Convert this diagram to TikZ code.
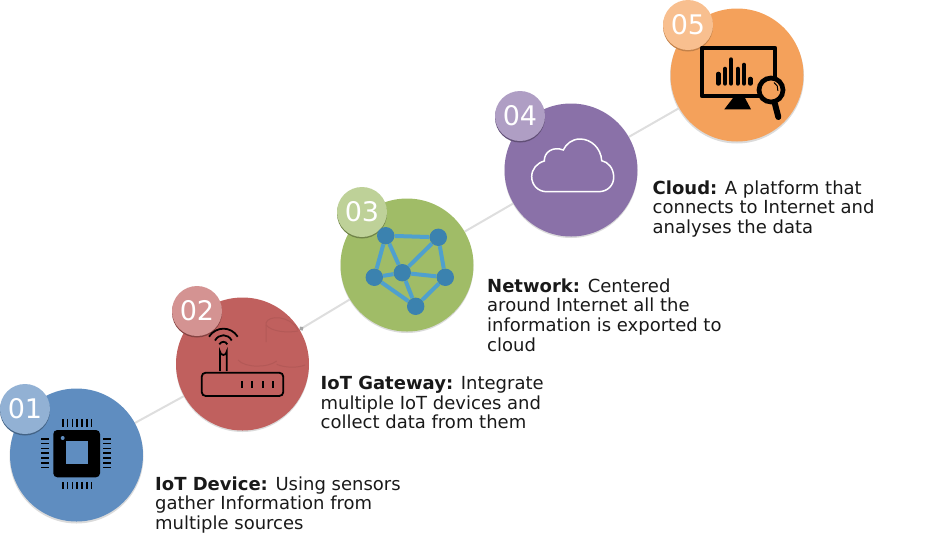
\documentclass[tikz,border=0pt]{standalone}
\usepackage{fontspec}
\setmainfont{DejaVu Sans}
\usetikzlibrary{backgrounds,arrows.meta}
\pgfdeclarelayer{icons}
\pgfsetlayers{background,main,icons}

\tikzset{
  stepdisc/.style={circle,minimum size=133pt,inner sep=0pt},
  numdisc/.style={circle,minimum size=50pt,inner sep=0pt,text=white,font=\fontsize{27}{27}\selectfont},
  caption/.style={anchor=north west,align=left,inner sep=0pt,text=black!90,font=\fontsize{18}{19.6}\selectfont},
  link/.style={draw=black!13,line width=2pt},
  netnode/.style={circle,fill=netdark,minimum size=17.4pt,inner sep=0pt},
  netlink/.style={draw=netlight,line width=4pt},
  ghost/.style={draw=reddisc!93!black,line width=1pt},
  iconline/.style={draw=black,line width=1.8pt}
}
\definecolor{bluedisc}{HTML}{5F8DC0}
\definecolor{reddisc}{HTML}{C0605E}
\definecolor{greendisc}{HTML}{A0BC67}
\definecolor{purpledisc}{HTML}{8A71A8}
\definecolor{orangedisc}{HTML}{F4A15B}
\definecolor{netdark}{HTML}{3B82AF}
\definecolor{netlight}{HTML}{4FA0CE}

\begin{document}
\begin{tikzpicture}[x=1pt,y=-1pt]
  \useasboundingbox (0,0) rectangle (927,539);

  % soft shadows
  \fill[black!14] (76.5,456.5) circle (67) (242.5,365.5) circle (66.5) (407,266.5) circle (66.5)
  (571,171.5) circle (66.5) (737,76.5) circle (67);

  % big discs
  \node[stepdisc,fill=bluedisc] (dev) at (76.5,455) {};
  \node[stepdisc,fill=reddisc] (gate) at (242.5,364) {};
  \node[stepdisc,fill=greendisc] (net) at (407,265) {};
  \node[stepdisc,fill=purpledisc] (cld) at (571,170) {};
  \node[stepdisc,fill=orangedisc] (ana) at (737,75) {};

  \begin{scope}[on background layer]
    \draw[link] (dev)--(gate);
    \draw[link,{Circle[length=4pt,black!35]}-] (gate)--(net);
    \draw[link] (net)--(cld);
    \draw[link] (cld)--(ana);
  \end{scope}

  % number discs
  \fill[bluedisc!70!black] (25,410.5) circle (25);
  \fill[reddisc!70!black] (197,312.5) circle (25);
  \fill[greendisc!70!black] (362,213.5) circle (25);
  \fill[purpledisc!70!black] (520,117.5) circle (25);
  \fill[orangedisc!80!black] (688,26.5) circle (25);
  \node[numdisc,fill=bluedisc!68!white] (numa) at (25,409) {01};
  \node[numdisc,fill=reddisc!68!white] (numb) at (197,311) {02};
  \node[numdisc,fill=greendisc!68!white] (numc) at (362,212) {03};
  \node[numdisc,fill=purpledisc!68!white] (numd) at (520,116) {04};
  \node[numdisc,fill=orangedisc!68!white] (nume) at (688,25) {05};

  % chip
  \fill[black,rounded corners=4pt] (53.3,430) rectangle (100,477.3);
  \fill[bluedisc] (65.7,441) rectangle (88,464);
  \fill[bluedisc] (62.7,438) circle (2);
  \foreach \k in {0,...,6}{
    \fill (62+\k*4.77,419) rectangle +(1.7,7.7);
    \fill (62+\k*4.77,481.5) rectangle +(1.7,7.7);
    \fill (40.7,438+\k*4.77) rectangle +(8,1.7);
    \fill (103.3,438+\k*4.77) rectangle +(8,1.7);
  }

  % router
  \draw[ghost] (266,342)--(266,323) .. controls (268,315) and (290,315) .. (298,330);
  \draw[ghost] (266,325) .. controls (272,332) and (288,333) .. (298,331);
  \draw[ghost] (238,360) .. controls (245,368) and (268,368) .. (276.7,361);
  \draw[ghost] (276.7,364.3) .. controls (285,368) and (298,368) .. (305,365);
  \draw[iconline,rounded corners=4pt] (201.7,372.7) rectangle (283.3,396);
  \foreach \k in {242,252.3,262.7,273}
    \draw[iconline] (\k,381)--(\k,387.7);
  \draw[iconline] (220,371)--(220,351.6) arc (180:0:3.35)--(226.7,371);
  \draw[iconline] (209,336.7) .. controls (216,326) and (231,326) .. (237.7,336.7);
  \draw[iconline] (215,340.5) .. controls (219,333.5) and (228,333.5) .. (231.7,340.5);
  \draw[iconline] (219.3,344.3) .. controls (221,341) and (226,341) .. (227.3,344.3);

  % network
  \begin{pgfonlayer}{icons}
    \node[netnode] (na) at (385.7,235.7) {};
    \node[netnode] (nb) at (438.3,237.3) {};
    \node[netnode] (nc) at (374.3,277.3) {};
    \node[netnode] (nd) at (402.3,272.7) {};
    \node[netnode] (ne) at (445.3,277.3) {};
    \node[netnode] (nf) at (415.7,306.3) {};
  \end{pgfonlayer}
  \foreach \a/\b in {na/nb,na/nc,na/nd,nb/nd,nb/ne,nc/nd,nd/ne,nc/nf,nd/nf,ne/nf}
    \draw[netlink] (\a)--(\b);

  % cloud
  \draw[white,line width=1.5pt] (546.7,191.7)--(598.3,191.7)
  .. controls (608,191.7) and (613.7,185) .. (613.7,177.3)
  .. controls (613.7,168) and (608,162) .. (601.7,160.7)
  .. controls (601,148) and (591,139) .. (580,139)
  .. controls (572,139) and (566,144) .. (563.3,150)
  .. controls (553,146) and (544,152) .. (544.3,161)
  .. controls (537,163) and (531.7,169) .. (531.7,176.7)
  .. controls (531.7,185) and (538,191.7) .. (546.7,191.7) -- cycle;

  % monitor
  \draw[black,line width=4.3pt,line join=round] (702,47.8) rectangle (775,96);
  \fill[black] (724.3,109.3)--(733,98)--(745,98)--(751,109.3)--cycle;
  \foreach \k/\t in {718.3/73.9,725/68.9,731/59.5,737.7/68.9,744/64.9,750.3/78.9}
    \draw[black,line width=4.4pt,line cap=round] (\k,\t)--(\k,83.5);
  \draw[black,line width=6pt,line cap=round] (775,104)--(778.3,117);
  \draw[black,line width=4.7pt,fill=orangedisc] (771,90) circle (12);
  \draw[black,line width=1pt] (774,82.5) arc (-60:10:8);

  % captions
  \node[caption] (capa) at (155,476.5) {\textbf{IoT Device:} Using sensors\\gather Information from\\multiple sources};
  \node[caption] (capb) at (320.5,376) {\textbf{IoT Gateway:} Integrate\\multiple IoT devices and\\collect data from them};
  \node[caption] (capc) at (487,278.5) {\textbf{Network:} Centered\\around Internet all the\\information is exported to\\cloud};
  \node[caption] (capd) at (652.5,180.5) {\textbf{Cloud:} A platform that\\connects to Internet and\\analyses the data};
\end{tikzpicture}
\end{document}
